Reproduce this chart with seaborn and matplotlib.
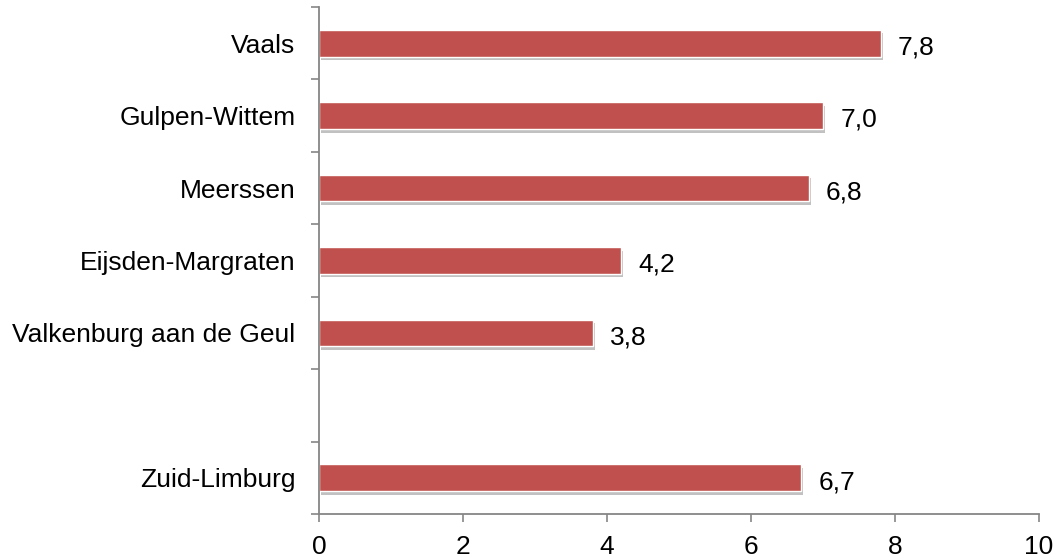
import numpy as np
import pandas as pd
import seaborn as sns
import matplotlib.pyplot as plt
import matplotlib.patheffects as pe

gemeenten = ["Vaals", "Gulpen-Wittem", "Meerssen", "Eijsden-Margraten",
             "Valkenburg aan de Geul", "Zuid-Limburg"]
waarden = [7.8, 7.0, 6.8, 4.2, 3.8, 6.7]
# empty slot between the municipalities and the region total
volgorde = ["Vaals", "Gulpen-Wittem", "Meerssen", "Eijsden-Margraten",
            "Valkenburg aan de Geul", " ", "Zuid-Limburg"]
x_ticks = [0, 2, 4, 6, 8, 10]

bar_color = "#C0504D"
axis_color = "#868686"

df = pd.DataFrame({"gemeente": gemeenten, "waarde": waarden})

sns.set_style("white")
plt.rcParams['font.family'] = ['Liberation Sans', 'DejaVu Sans']

fig = plt.figure(figsize=(10.56, 5.6), dpi=100)
ax = fig.add_axes([319 / 1056, 1 - 514 / 560, 720 / 1056, 507 / 560])

sns.barplot(data=df, x="waarde", y="gemeente",
            order=volgorde, orient="h", color=bar_color, width=0.37,
            saturation=1, edgecolor="white", linewidth=1.0, ax=ax)

for bar in ax.patches:
    bar.set_path_effects([
        pe.SimplePatchShadow(offset=(1.5, -2.5), shadow_rgbFace="#777777", alpha=0.45),
        pe.Normal(),
    ])

# value labels with Dutch decimal comma
for bar in ax.patches:
    w = bar.get_width()
    if np.isnan(w) or w == 0:
        continue
    ax.text(w + 0.24, bar.get_y() + bar.get_height() / 2 + 0.06,
            f"{w:.1f}".replace(".", ","), va="center", ha="left",
            fontsize=19, color="black")

ax.set_xlim(0, 10)
ax.set_ylim(len(volgorde) - 0.5, -0.5)
ax.set_xticks(x_ticks)
ax.set_xticklabels([str(t) for t in x_ticks])

ax.set_yticks(range(len(volgorde)))
ax.set_yticklabels(volgorde)
ax.set_yticks([i - 0.5 for i in range(len(volgorde) + 1)], minor=True)
ax.tick_params(axis="y", which="major", left=True, length=0, pad=17,
               labelsize=19, labelcolor="black")
ax.tick_params(axis="y", which="minor", left=True, length=6, width=1.2,
               color=axis_color, direction="out")
ax.tick_params(axis="x", which="major", bottom=True, length=6, width=1.2,
               color=axis_color, direction="out", pad=9,
               labelsize=19, labelcolor="black")

ax.set_xlabel("")
ax.set_ylabel("")

for side in ["top", "right"]:
    ax.spines[side].set_visible(False)
for side in ["left", "bottom"]:
    ax.spines[side].set_color(axis_color)
    ax.spines[side].set_linewidth(1.3)

fig.savefig("out.png", dpi=100)
